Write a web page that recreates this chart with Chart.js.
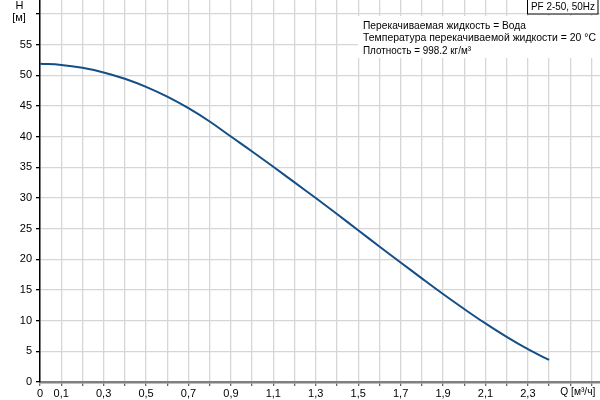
<!DOCTYPE html>
<html><head><meta charset="utf-8">
<script src="https://cdn.jsdelivr.net/npm/chart.js@4.4.0/dist/chart.umd.min.js"></script>
<style>html,body{margin:0;padding:0;background:#fff}</style>
</head><body>
<canvas id="c" width="600" height="400"></canvas>
<script>
const flowQ = [0,0.1,0.2,0.3,0.4,0.5,0.6,0.7,0.8,0.9,1.0,1.1,1.2,1.3,1.4,1.5,1.6,1.7,1.8,1.9,2.0,2.1,2.2,2.3,2.4];
const headH = [51.9,51.71,51.24,50.49,49.45,48.13,46.53,44.65,42.48,40.03,37.6,35.1,32.55,30.0,27.4,24.75,22.1,19.5,16.9,14.35,11.9,9.55,7.35,5.35,3.6];
const xGridValues = [0,0.1,0.2,0.3,0.4,0.5,0.6,0.7,0.8,0.9,1.0,1.1,1.2,1.3,1.4,1.5,1.6,1.7,1.8,1.9,2.0,2.1,2.2,2.3,2.4,2.5,2.6];
const xTickLabels = ['0','0,1','','0,3','','0,5','','0,7','','0,9','','1,1','','1,3','','1,5','','1,7','','1,9','','2,1','','2,3','','',''];
const yGridValues = [0,5,10,15,20,25,30,35,40,45,50,55,60];
const yTickLabels = ['0','5','10','15','20','25','30','35','40','45','50','55',''];
const xAxisTitle = 'Q [м³/ч]';
const yAxisTitle = ['H','[м]'];
const titleBox = 'PF 2-50, 50Hz';
const infoLines = ['Перекачиваемая жидкость = Вода','Температура перекачиваемой жидкости = 20 °C','Плотность = 998.2 кг/м³'];

const FONT = '"Liberation Sans", Arial, sans-serif';

function fillFit(ctx, text, x, y, width){
  const m = ctx.measureText(text).width;
  const s = width / m;
  ctx.save();
  ctx.translate(x, y);
  ctx.scale(s, 1);
  ctx.textAlign = 'left';
  ctx.fillText(text, 0, 0);
  ctx.restore();
}

const overlay = {
  id:'overlay',
  afterDraw(chart){
    const ctx = chart.ctx, xs = chart.scales.x;
    ctx.save();
    ctx.font = '11px ' + FONT;
    ctx.fillStyle = '#000';
    ctx.textBaseline = 'middle';
    ctx.textAlign = 'center';
    ctx.fillText(yAxisTitle[0], 19.5, 5.5);
    ctx.fillText(yAxisTitle[1], 19, 17.5);
    fillFit(ctx, xAxisTitle, xs.getPixelForValue(2.5) - 10, 392, 35);
    ctx.fillStyle = '#fff';
    ctx.fillRect(358, 16, 242, 42);
    ctx.fillStyle = '#000';
    ctx.font = '10.5px ' + FONT;
    fillFit(ctx, infoLines[0], 363, 26, 163);
    fillFit(ctx, infoLines[1], 363, 38.5, 233);
    fillFit(ctx, infoLines[2], 363, 51, 108);
    ctx.fillStyle = '#fff';
    ctx.fillRect(527, 0, 71, 14);
    ctx.strokeStyle = '#000'; ctx.lineWidth = 1;
    ctx.strokeRect(527.5, -0.5, 70.5, 14.5);
    ctx.fillStyle = '#000';
    ctx.font = '11px ' + FONT;
    fillFit(ctx, titleBox, 531, 7, 64);
    ctx.restore();
  }
};

new Chart(document.getElementById('c'), {
  type:'line',
  data:{ datasets:[{
    data: flowQ.map((q,i)=>({x:q, y:headH[i]})),
    borderColor:'#134f86', borderWidth:2, pointRadius:0,
    tension:0.4, fill:false
  }]},
  options:{
    responsive:false, animation:false, devicePixelRatio:1,
    layout:{padding:0},
    plugins:{legend:{display:false}, tooltip:{enabled:false}},
    scales:{
      x:{ type:'linear', min:0, max:2.64,
        afterBuildTicks(s){ s.ticks = xGridValues.map(v=>({value:v})); },
        afterFit(s){ s.height = 18; s.paddingLeft=0; s.paddingRight=0; s.paddingTop=0; s.paddingBottom=0; },
        ticks:{ autoSkip:false, maxRotation:0, padding:1, color:'#000', font:{family:FONT, size:11},
          callback(v,i){ return xTickLabels[i]; } },
        grid:{ color:'#d6d6d6', lineWidth:1.3, tickLength:4, tickColor:'#666' },
        border:{ color:'#808080', width:2.5 }
      },
      y:{ type:'linear', min:0, max:62.3,
        afterBuildTicks(s){ s.ticks = yGridValues.map(v=>({value:v})); },
        afterFit(s){ s.width = 40; s.paddingLeft=0; s.paddingRight=0; s.paddingTop=0; s.paddingBottom=0; },
        ticks:{ padding:4, color:'#000', font:{family:FONT, size:11},
          callback(v,i){ return yTickLabels[i]; } },
        grid:{ color:'#d6d6d6', lineWidth:1.3, tickLength:4, tickColor:'#000' },
        border:{ color:'#000', width:1.5 }
      }
    }
  },
  plugins:[overlay]
});
</script>
</body></html>
